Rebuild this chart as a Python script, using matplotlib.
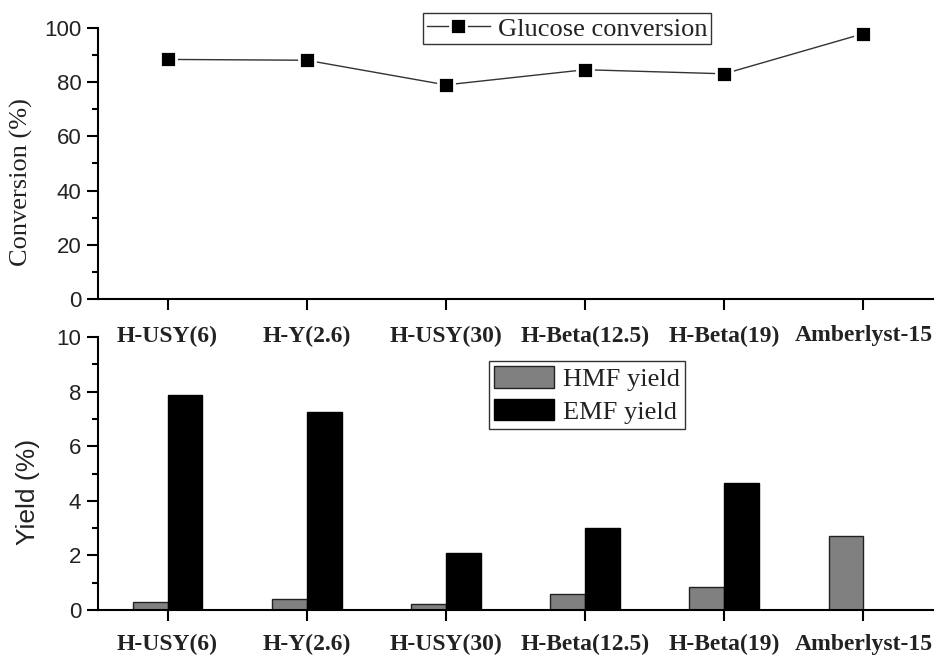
import matplotlib
matplotlib.use("Agg")
import matplotlib.pyplot as plt
import numpy as np
from matplotlib.ticker import MultipleLocator

# Catalysts and measured values
catalysts = ["H-USY(6)", "H-Y(2.6)", "H-USY(30)", "H-Beta(12.5)", "H-Beta(19)", "Amberlyst-15"]
glucose_conversion = [88.4, 88.1, 79.0, 84.6, 83.1, 97.9]
hmf_yield = [0.30, 0.40, 0.21, 0.59, 0.83, 2.71]
emf_yield = [7.88, 7.27, 2.10, 3.00, 4.66, 0.0]

serif = ["Liberation Serif", "DejaVu Serif"]
sans = ["Liberation Sans", "DejaVu Sans"]
text_color = "#222222"

fig = plt.figure(figsize=(9.45, 6.57), dpi=100)
ax1 = fig.add_axes([0.1037, 0.5449, 0.8836, 0.4125])
ax2 = fig.add_axes([0.1037, 0.0715, 0.8836, 0.4155])
# the lower panel sits just under the upper panel's category labels
ax2.patch.set_visible(False)
ax1.set_zorder(3)
ax1.patch.set_visible(False)

x = np.arange(len(catalysts))
spine_w = 1.5


def style_axes(ax, ymax, major, minor, xpad):
    for s in ("top", "right"):
        ax.spines[s].set_visible(False)
    for s in ("left", "bottom"):
        ax.spines[s].set_linewidth(spine_w)
        ax.spines[s].set_color("black")
    ax.set_xlim(-0.5, 5.5)
    ax.set_ylim(0, ymax)
    ax.yaxis.set_major_locator(MultipleLocator(major))
    ax.yaxis.set_minor_locator(MultipleLocator(minor))
    ax.set_xticks(x)
    ax.set_xticklabels(catalysts, fontfamily=serif, fontweight="bold", fontsize=17,
                       color=text_color)
    ax.tick_params(axis="x", which="major", direction="out", length=8, width=spine_w, pad=xpad)
    ax.tick_params(axis="y", which="major", direction="out", length=8, width=spine_w,
                   labelsize=16, labelcolor=text_color, pad=4)
    ax.tick_params(axis="y", which="minor", direction="out", length=4, width=spine_w)
    for lab in ax.get_yticklabels():
        lab.set_fontfamily(sans)


# Conversion panel
style_axes(ax1, 100, 20, 10, xpad=11)
ax1.plot(x, glucose_conversion, color="#333333", linewidth=1.0, marker="s",
         markersize=11.6, markerfacecolor="black", markeredgecolor="white",
         markeredgewidth=2.0, label="Glucose conversion", clip_on=False)
ax1.set_ylabel("Conversion (%)", fontfamily=serif, fontsize=19, color=text_color)
ax1.yaxis.set_label_coords(-0.078, 0.432)
leg1 = ax1.legend(loc="upper left", bbox_to_anchor=(0.389, 1.055), frameon=True,
                  fancybox=False, prop={"family": serif, "size": 19},
                  handlelength=2.4, handletextpad=0.3, borderpad=0.15, borderaxespad=0)
leg1.get_frame().set_edgecolor("black")
leg1.get_frame().set_linewidth(1.0)
for t in leg1.get_texts():
    t.set_color(text_color)

# Yield panel
style_axes(ax2, 10, 2, 1, xpad=9)
w = 0.25
ax2.bar(x - w / 2, hmf_yield, width=w, color="#808080", edgecolor="#222222",
        linewidth=1.0, label="HMF yield")
ax2.bar(x + w / 2, emf_yield, width=w, color="black", edgecolor="black",
        linewidth=1.0, label="EMF yield")
ax2.set_ylabel("Yield (%)", fontfamily=sans, fontsize=19, color=text_color)
ax2.yaxis.set_label_coords(-0.0695, 0.432)
leg2 = ax2.legend(loc="upper left", bbox_to_anchor=(0.468, 0.912), frameon=True,
                  fancybox=False, prop={"family": serif, "size": 19},
                  handlelength=2.27, handleheight=0.87, handletextpad=0.35,
                  labelspacing=0.3, borderpad=0.2, borderaxespad=0)
leg2.get_frame().set_edgecolor("black")
leg2.get_frame().set_linewidth(1.0)
for t in leg2.get_texts():
    t.set_color(text_color)

fig.savefig("out.png", dpi=100, facecolor="white")
